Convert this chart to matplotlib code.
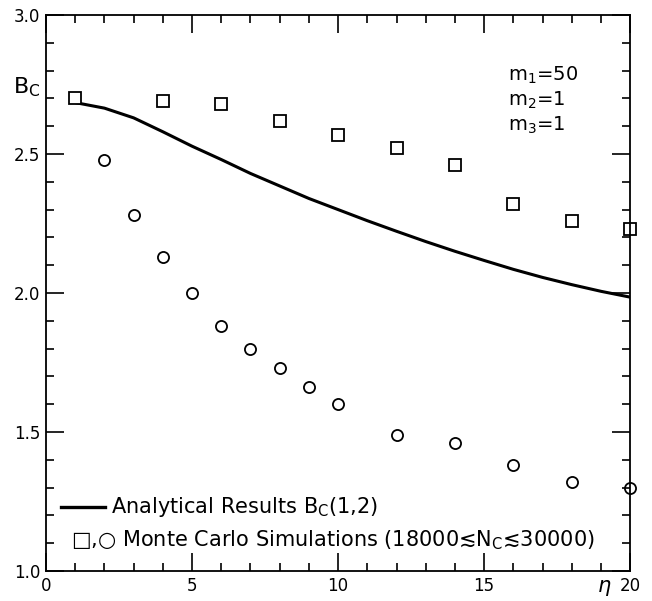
import matplotlib
matplotlib.use("Agg")
import matplotlib.pyplot as plt
from matplotlib.ticker import MultipleLocator

# Data
eta_sq = [1, 4, 6, 8, 10, 12, 14, 16, 18, 20]
bc_sq = [2.70, 2.69, 2.68, 2.62, 2.57, 2.52, 2.46, 2.32, 2.26, 2.23]
eta_circ = [2, 3, 4, 5, 6, 7, 8, 9, 10, 12, 14, 16, 18, 20]
bc_circ = [2.48, 2.28, 2.13, 2.00, 1.88, 1.80, 1.73, 1.66, 1.60, 1.49, 1.46, 1.38, 1.32, 1.30]
eta_line = [1, 2, 3, 4, 5, 6, 7, 8, 9, 10, 11, 12, 13, 14, 15, 16, 17, 18, 19, 20]
bc_line = [2.685, 2.665, 2.63, 2.58, 2.528, 2.48, 2.43, 2.385, 2.34, 2.30, 2.26, 2.222,
           2.185, 2.15, 2.117, 2.085, 2.056, 2.03, 2.006, 1.985]
xticks = [0, 5, 10, 15, 20]
yticks = [1.0, 1.5, 2.0, 2.5, 3.0]

plt.rcParams['font.family'] = ['DejaVu Sans']
fig = plt.figure(figsize=(6.52, 6.01), dpi=100)
ax = fig.add_axes([0.0706, 0.050, 0.896, 0.925])

ax.plot(eta_line, bc_line, color='black', lw=2.2)
ax.plot(eta_sq, bc_sq, ls='none', marker='s', ms=8, mfc='white', mec='black', mew=1.3, clip_on=False)
ax.plot(eta_circ, bc_circ, ls='none', marker='o', ms=8, mfc='none', mec='black', mew=1.3, clip_on=False)

ax.set_xlim(0, 20)
ax.set_ylim(1.0, 3.0)
ax.set_xticks(xticks)
ax.set_xticklabels([str(t) for t in xticks])
ax.set_yticks(yticks)
ax.set_yticklabels([f"{t:.1f}" for t in yticks])
ax.xaxis.set_minor_locator(MultipleLocator(1))
ax.yaxis.set_minor_locator(MultipleLocator(0.1))
ax.tick_params(which='both', direction='in', top=True, right=True, labelsize=12, width=1.2)
ax.tick_params(which='major', length=13, pad=4)
ax.tick_params(which='minor', length=6)
for s in ax.spines.values():
    s.set_linewidth(1.3)

ax.text(-0.033, 0.87, r'$\mathregular{B_C}$', transform=ax.transAxes, fontsize=16, ha='center', va='center')
ax.text(0.955, -0.03, r'$\eta$', transform=ax.transAxes, fontsize=15, ha='center', va='center')

ax.text(0.79, 0.892, r'$\mathregular{m_1}$=50', transform=ax.transAxes, fontsize=14, ha='left', va='center')
ax.text(0.79, 0.847, r'$\mathregular{m_2}$=1', transform=ax.transAxes, fontsize=14, ha='left', va='center')
ax.text(0.79, 0.802, r'$\mathregular{m_3}$=1', transform=ax.transAxes, fontsize=14, ha='left', va='center')

# legend
ax.plot([0.52, 2.03], [1.23, 1.23], color='black', lw=2.4)
ax.text(2.24, 1.23, r'Analytical Results $\mathregular{B_C}$(1,2)', fontsize=15, ha='left', va='center')
ax.text(0.86, 1.11, '□,○ Monte Carlo Simulations (18000≲$\\mathregular{N_C}$≲30000)', fontsize=15, ha='left', va='center')

fig.savefig('out.png', dpi=100)
